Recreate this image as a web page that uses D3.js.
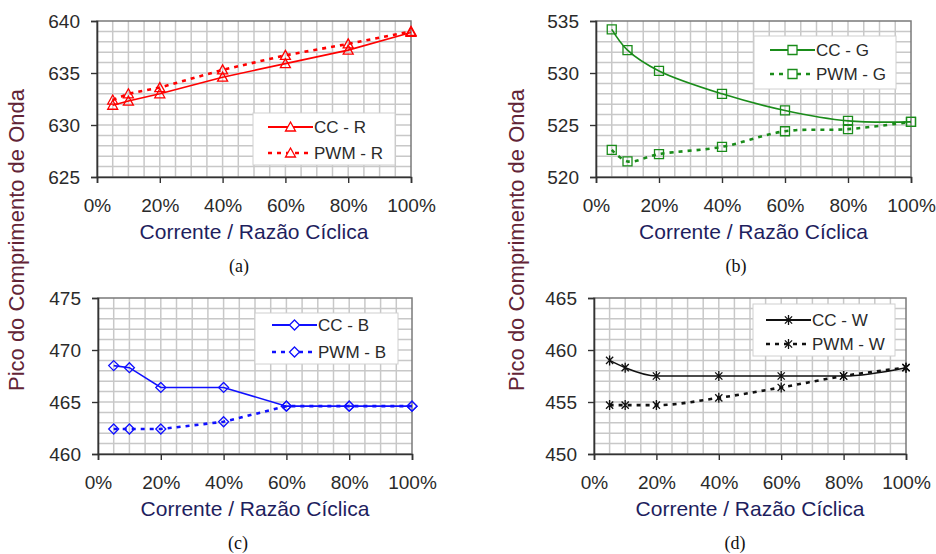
<!DOCTYPE html>
<html>
<head>
<meta charset="utf-8">
<script src="https://cdn.jsdelivr.net/npm/d3@7"></script>
<style>
  html, body { margin: 0; padding: 0; background: #fff; }
  svg { display: block; }
</style>
</head>
<body>
<svg id="chart" width="936" height="554"></svg>
<script>
// ---------- DATA ----------
const xValues = [5, 10, 20, 40, 60, 80, 100];
const xTicks = [0, 20, 40, 60, 80, 100];
const xTickLabels = ["0%", "20%", "40%", "60%", "80%", "100%"];

const ccR  = [631.9, 632.3, 633.0, 634.6, 635.9, 637.2, 638.9];
const pwmR = [632.4, 633.0, 633.6, 635.3, 636.7, 637.8, 639.0];
const yTicksA = [625, 630, 635, 640];

const ccG  = [534.2, 532.2, 530.2, 528.0, 526.4, 525.4, 525.3];
const pwmG = [522.6, 521.5, 522.2, 522.9, 524.4, 524.6, 525.3];
const yTicksB = [520, 525, 530, 535];

const ccB  = [468.5, 468.3, 466.4, 466.4, 464.6, 464.6, 464.6];
const pwmB = [462.4, 462.4, 462.4, 463.1, 464.6, 464.6, 464.6];
const yTicksC = [460, 465, 470, 475];

const ccW  = [459.0, 458.3, 457.5, 457.5, 457.5, 457.5, 458.3];
const pwmW = [454.7, 454.7, 454.7, 455.4, 456.4, 457.5, 458.3];
const yTicksD = [450, 455, 460, 465];

const legendA = ["CC - R", "PWM - R"];
const legendB = ["CC - G", "PWM - G"];
const legendC = ["CC - B", "PWM - B"];
const legendD = ["CC - W", "PWM - W"];

const xTitle = "Corrente / Razão Cíclica";
const yTitle = "Pico do Comprimento de Onda";
const captions = ["(a)", "(b)", "(c)", "(d)"];

// ---------- LAYOUT ----------
const svg = d3.select("#chart");
const sansFont = "'Liberation Sans', Arial, Helvetica, sans-serif";
const serifFont = "'Liberation Serif', 'Times New Roman', serif";

const panels = [
  { box: {l: 97, r: 411, t: 21, b: 177}, yTicks: yTicksA, cc: ccR, pwm: pwmR, names: legendA,
    color: "#ff0000", marker: "triangle", smooth: false,
    legend: {x: 253, y: 113, w: 142, h: 52, r1: 127, r2: 153, lx: 268},
    xTitleY: 239, caption: captions[0], capX: 239, capY: 272 },
  { box: {l: 596, r: 911, t: 21, b: 177}, yTicks: yTicksB, cc: ccG, pwm: pwmG, names: legendB,
    color: "#1a8c1a", marker: "square", smooth: true,
    legend: {x: 754, y: 36, w: 142, h: 53, r1: 50, r2: 74, lx: 770},
    xTitleY: 239, caption: captions[1], capX: 736, capY: 272 },
  { box: {l: 98, r: 412, t: 298, b: 454}, yTicks: yTicksC, cc: ccB, pwm: pwmB, names: legendC,
    color: "#1010ff", marker: "diamond", smooth: false,
    legend: {x: 255, y: 313, w: 143, h: 51, r1: 325, r2: 352, lx: 272},
    xTitleY: 516, caption: captions[2], capX: 238, capY: 549 },
  { box: {l: 594, r: 906, t: 298, b: 454}, yTicks: yTicksD, cc: ccW, pwm: pwmW, names: legendD,
    color: "#111111", marker: "star", smooth: "mono",
    legend: {x: 753, y: 304, w: 142, h: 52, r1: 320, r2: 344, lx: 766},
    xTitleY: 516, caption: captions[3], capX: 735, capY: 549 }
];

function markerPath(type, s) {
  const h = s / 2;
  if (type === "triangle") return `M0,${-h}L${h},${h*0.8}L${-h},${h*0.8}Z`;
  if (type === "square") return `M${-h*0.9},${-h*0.9}H${h*0.9}V${h*0.9}H${-h*0.9}Z`;
  if (type === "diamond") return `M0,${-h}L${h},0L0,${h}L${-h},0Z`;
  const d = h * 0.72;
  return `M0,${-h}V${h}M${-d},${-d}L${d},${d}M${d},${-d}L${-d},${d}`;
}

panels.forEach(p => {
  const g = svg.append("g");
  const x = d3.scaleLinear().domain([0, 100]).range([p.box.l, p.box.r]);
  const y = d3.scaleLinear().domain([p.yTicks[0], p.yTicks[p.yTicks.length - 1]]).range([p.box.b, p.box.t]);

  g.append("rect").attr("x", p.box.l).attr("y", p.box.t)
    .attr("width", p.box.r - p.box.l).attr("height", p.box.b - p.box.t).attr("fill", "#fff");

  const vGrid = d3.range(5, 100, 5);
  g.append("g").selectAll("line").data(vGrid).join("line")
    .attr("x1", d => x(d)).attr("x2", d => x(d))
    .attr("y1", p.box.t).attr("y2", p.box.b)
    .attr("stroke", "#c8c8c8").attr("stroke-width", 1.5);
  const hGrid = d3.range(p.yTicks[0] + 1, p.yTicks[p.yTicks.length - 1], 1);
  g.append("g").selectAll("line").data(hGrid).join("line")
    .attr("x1", p.box.l).attr("x2", p.box.r)
    .attr("y1", d => y(d)).attr("y2", d => y(d))
    .attr("stroke", "#c8c8c8").attr("stroke-width", 1.5);

  g.append("rect").attr("x", p.box.l).attr("y", p.box.t)
    .attr("width", p.box.r - p.box.l).attr("height", p.box.b - p.box.t)
    .attr("fill", "none").attr("stroke", "#7a7a7a").attr("stroke-width", 1.5);

  const xAxis = d3.axisBottom(x).tickValues(xTicks).tickSize(6).tickPadding(16)
    .tickFormat((d, i) => xTickLabels[i]);
  const gx = g.append("g").attr("transform", `translate(0,${p.box.b})`).call(xAxis);
  const yAxis = d3.axisLeft(y).tickValues(p.yTicks).tickSize(6).tickPadding(11)
    .tickFormat(d3.format("d"));
  const gy = g.append("g").attr("transform", `translate(${p.box.l},0)`).call(yAxis);
  [gx, gy].forEach(a => {
    a.select(".domain").attr("stroke", "#333").attr("stroke-width", 1.6);
    a.selectAll(".tick line").attr("stroke", "#333").attr("stroke-width", 1.4);
    a.selectAll(".tick text").attr("fill", "#2a2a2a")
      .style("font-family", sansFont).style("font-size", "19px");
  });

  const pts = arr => arr.map((v, i) => [x(xValues[i]), y(v)]);
  const curve = p.smooth === true ? d3.curveCatmullRom.alpha(0.5)
              : p.smooth === "mono" ? d3.curveMonotoneX : d3.curveLinear;
  const line = d3.line().curve(curve);

  g.append("path").attr("d", line(pts(p.pwm))).attr("fill", "none")
    .attr("stroke", p.color).attr("stroke-width", 2.6).attr("stroke-dasharray", "4,5");
  g.append("path").attr("d", line(pts(p.cc))).attr("fill", "none")
    .attr("stroke", p.color).attr("stroke-width", 1.6);

  const mSize = 10;
  [p.cc, p.pwm].forEach(arr => {
    g.append("g").selectAll("path").data(pts(arr)).join("path")
      .attr("transform", d => `translate(${d[0]},${d[1]})`)
      .attr("d", markerPath(p.marker, mSize))
      .attr("fill", "none").attr("stroke", p.color).attr("stroke-width", 1.3);
  });

  const L = p.legend;
  g.append("rect").attr("x", L.x).attr("y", L.y).attr("width", L.w).attr("height", L.h)
    .attr("fill", "#fff").attr("stroke", "#d0d0d0").attr("stroke-width", 1);
  [L.r1, L.r2].forEach((ry, i) => {
    const lg = g.append("g");
    lg.append("line").attr("x1", L.lx).attr("x2", L.lx + 45).attr("y1", ry).attr("y2", ry)
      .attr("stroke", p.color)
      .attr("stroke-width", i === 0 ? 1.8 : 2.6)
      .attr("stroke-dasharray", i === 0 ? null : "4,5");
    lg.append("path").attr("transform", `translate(${L.lx + 22.5},${ry})`)
      .attr("d", markerPath(p.marker, mSize))
      .attr("fill", "#fff").attr("stroke", p.color).attr("stroke-width", 1.3);
    lg.append("text").attr("x", L.lx + 46).attr("y", ry).attr("dy", "0.36em")
      .attr("fill", "#2a2a2a").style("font-family", sansFont).style("font-size", "17px")
      .text(p.names[i]);
  });

  g.append("text").attr("x", (p.box.l + p.box.r) / 2).attr("y", p.xTitleY)
    .attr("text-anchor", "middle").attr("fill", "#1e1e5e")
    .style("font-family", sansFont).style("font-size", "21px").text(xTitle);

  g.append("text").attr("x", p.capX).attr("y", p.capY).attr("text-anchor", "middle")
    .attr("fill", "#111").style("font-family", serifFont).style("font-size", "18px")
    .text(p.caption);
});

[{x: 24, y: 240}, {x: 524, y: 240}].forEach(t => {
  svg.append("text").attr("transform", `translate(${t.x},${t.y}) rotate(-90)`)
    .attr("text-anchor", "middle").attr("fill", "#622436")
    .style("font-family", sansFont).style("font-size", "22px").text(yTitle);
});
</script>
</body>
</html>
